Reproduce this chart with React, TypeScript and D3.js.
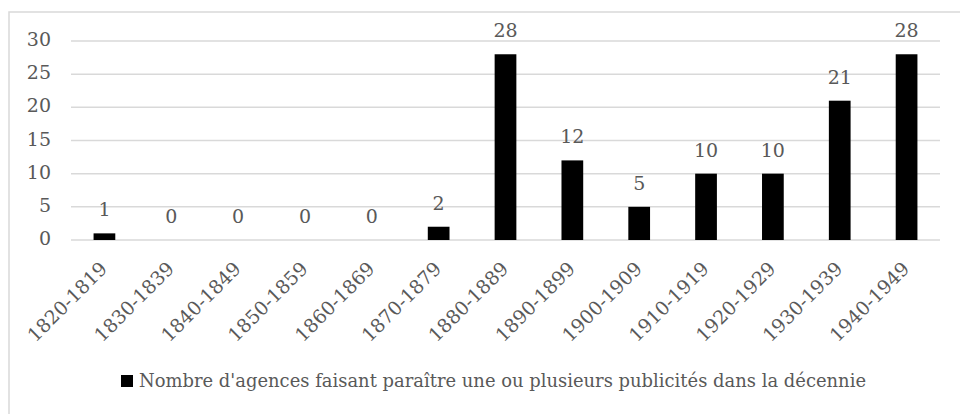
import React from "react";
import * as d3 from "d3";

const categories = ["1820-1819","1830-1839","1840-1849","1850-1859","1860-1869","1870-1879","1880-1889","1890-1899","1900-1909","1910-1919","1920-1929","1930-1939","1940-1949"];
const values = [1,0,0,0,0,2,28,12,5,10,10,21,28];
const yTicks = [0,5,10,15,20,25,30];
const seriesName = "Nombre d'agences faisant paraître une ou plusieurs publicités dans la décennie";

const W = 960, H = 414;
const FONT = "DejaVu Serif";
const TXT = "#595959";

export default function App() {
  const x = d3.scaleBand<string>().domain(categories).range([71, 940]).paddingInner(0.675).paddingOuter(0.3375);
  const y = d3.scaleLinear().domain([0, 30]).range([240, 41]);
  return (
    <svg width={W} height={H} style={{ position: "absolute", left: 0, top: 0 }} fontFamily={FONT}>
      <rect x={0} y={0} width={W} height={H} fill="#fff" />
      <rect x={9} y={12} width={980} height={420} fill="none" stroke="#d9d9d9" strokeWidth={1.5} />
      {yTicks.map(t => (
        <g key={t}>
          <line x1={71} x2={940} y1={y(t)} y2={y(t)} stroke="#d9d9d9" strokeWidth={1.5} />
          <text x={51} y={y(t) + 5} textAnchor="end" fontSize={19} fill={TXT}>{t}</text>
        </g>
      ))}
      {categories.map((c, i) => (
        <g key={c}>
          <rect x={x(c)!} y={y(values[i])} width={x.bandwidth()} height={y(0) - y(values[i])} fill="#000" />
          <text x={x(c)! + x.bandwidth() / 2} y={y(values[i]) - 17} textAnchor="middle" fontSize={19} fill={TXT}>{values[i]}</text>
          <text transform={`translate(${x(c)! + x.bandwidth() / 2 + 4},${270}) rotate(-45)`} textAnchor="end" fontSize={19} fill={TXT}>{c}</text>
        </g>
      ))}
      <rect x={121} y={375} width={12} height={12} fill="#000" />
      <text x={139} y={387} fontSize={19} fill={TXT} textLength={727} lengthAdjust="spacingAndGlyphs">{seriesName}</text>
    </svg>
  );
}
